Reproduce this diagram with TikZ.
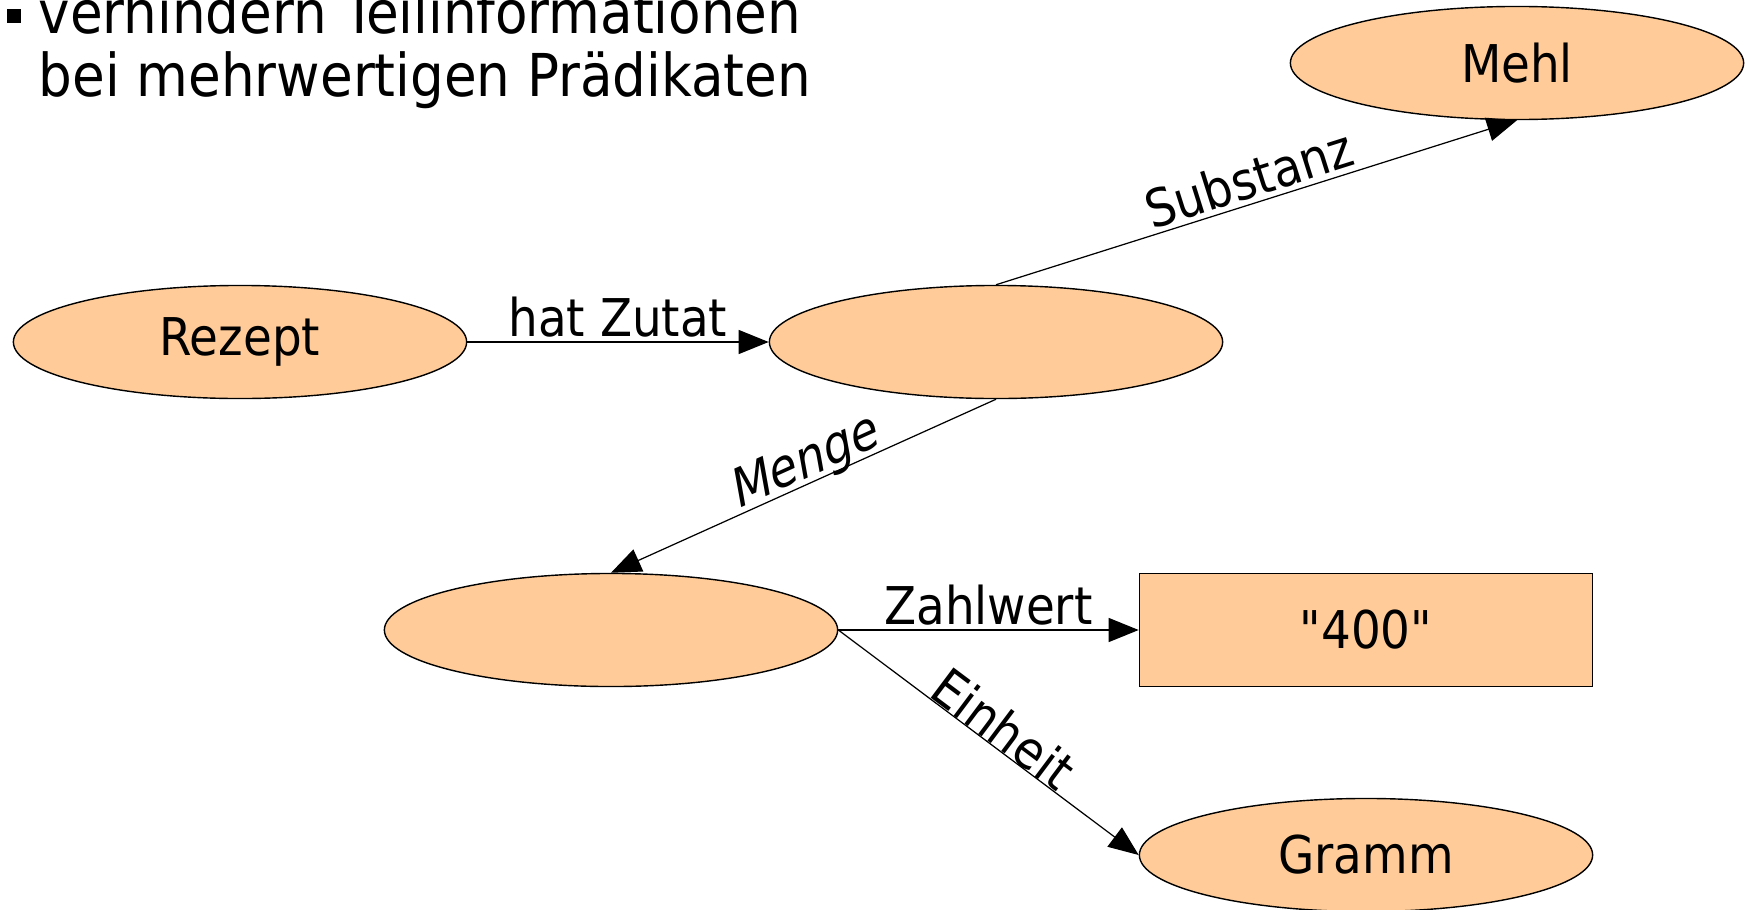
\documentclass[tikz,border=0pt]{standalone}
\usepackage{fontspec}
\setmainfont{DejaVu Sans Condensed}[Ligatures=TeXOff]
\newfontfamily\slantfont{DejaVu Sans Condensed}[FakeSlant=0.25]
\usetikzlibrary{arrows.meta,shapes.geometric,positioning}
\definecolor{nodefill}{RGB}{255,204,153}
\begin{document}
\begin{tikzpicture}[x=0.01cm, y=-0.01cm,
        every node/.style={font=\fontsize{14.8pt}{17.8pt}\selectfont},
        res/.style={ellipse, draw, fill=nodefill, line width=0.4pt,
            minimum width=4.53cm, minimum height=1.13cm, inner sep=0pt},
        lit/.style={rectangle, draw, fill=nodefill, line width=0.4pt,
            minimum width=4.53cm, minimum height=1.13cm, inner sep=0pt},
        prop/.style={-{Triangle[length=0.3cm, width=0.24cm]}, line width=0.35pt},
        plabel/.style={above, inner sep=1.5pt, text depth=0pt}]
        \useasboundingbox (0,0) rectangle (1746,909);

        % bullet line
        \node[fill=black, minimum size=0.14cm, inner sep=0pt] (bullet) at (14,16) {};
        \begin{scope}[every node/.style={anchor=base west, inner sep=0pt,
                font=\fontsize{16.8pt}{20pt}\selectfont}]
            \node (line1) at (38,34) {verhindern Teilinformationen};
            \node (line2) at (38,97) {bei mehrwertigen Prädikaten};
        \end{scope}

        \begin{scope}[every node/.append style={res}]
            \node (rezept) at (240,342) {Rezept};
            \node (zutat) at (996,342) {};
            \node (mehl) at (1517,63) {Mehl};
            \node (menge) at (611,630) {};
            \node (gramm) at (1366,855) {Gramm};
        \end{scope}
        \node[lit] (wert) at (1366,630) {"400"};

        \begin{scope}[every edge/.style={draw, prop}]
            \path (rezept.east) edge node[plabel] {hat Zutat} (zutat.west);
            \path (zutat.north) edge node[plabel, sloped] {Substanz} (mehl.south);
            \path (zutat.south) edge node[plabel, sloped, pos=0.48] {\slantfont Menge} (menge.north);
            \path (menge.east) edge node[plabel] {Zahlwert} (wert.west);
            \path (menge.east) edge node[plabel, sloped, inner sep=0pt, pos=0.51] {Einheit} (gramm.west);
        \end{scope}
\end{tikzpicture}
\end{document}
